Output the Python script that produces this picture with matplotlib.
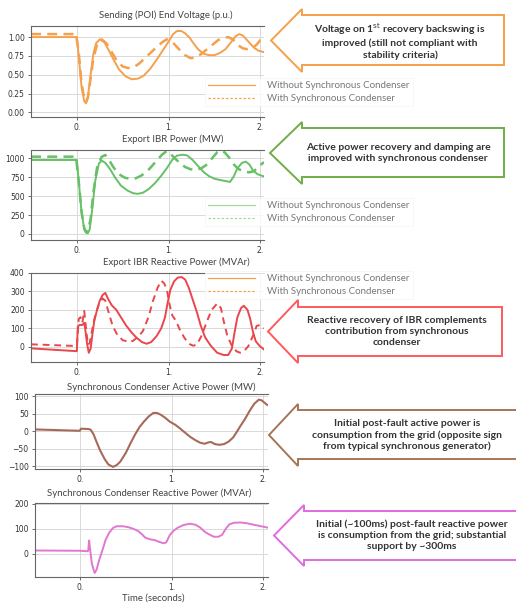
import matplotlib
matplotlib.use("Agg")
import matplotlib.pyplot as plt
from matplotlib.patches import Polygon
from matplotlib.lines import Line2D

# Tensión en el extremo emisor (p.u.)
t_v_sin = [-0.5, 0.0, 0.02, 0.05, 0.08, 0.1, 0.12, 0.15, 0.18, 0.21, 0.25, 0.3, 0.35, 0.4, 0.46, 0.53, 0.6,
           0.67, 0.73, 0.8, 0.87, 0.94, 1.0, 1.05, 1.09, 1.14, 1.18, 1.23, 1.27, 1.32, 1.38, 1.44, 1.5, 1.56,
           1.62, 1.68, 1.73, 1.77, 1.81, 1.87, 1.93, 1.98, 2.04]
v_sin = [1.0, 1.0, 0.75, 0.35, 0.15, 0.12, 0.2, 0.5, 0.78, 0.92, 0.97, 0.93, 0.82, 0.70, 0.57, 0.48, 0.44,
         0.45, 0.49, 0.58, 0.70, 0.83, 0.94, 1.04, 1.08, 1.08, 1.05, 0.99, 0.92, 0.84, 0.78, 0.76, 0.76, 0.79,
         0.84, 0.93, 1.01, 1.04, 1.02, 0.94, 0.86, 0.82, 0.80]
t_v_con = [-0.5, -0.01, 0.02, 0.05, 0.08, 0.1, 0.12, 0.15, 0.18, 0.22, 0.27, 0.32, 0.38, 0.44, 0.5, 0.56, 0.62,
           0.68, 0.75, 0.82, 0.88, 0.94, 0.98, 1.02, 1.06, 1.12, 1.18, 1.24, 1.3, 1.36, 1.42, 1.48, 1.54, 1.6,
           1.65, 1.7, 1.76, 1.81, 1.86, 1.91, 1.96, 2.0, 2.04]
v_con = [1.04, 1.04, 0.8, 0.4, 0.18, 0.14, 0.2, 0.45, 0.72, 0.9, 0.97, 0.92, 0.80, 0.68, 0.61, 0.59, 0.60,
         0.65, 0.73, 0.81, 0.88, 0.94, 0.97, 0.95, 0.91, 0.83, 0.76, 0.72, 0.73, 0.78, 0.84, 0.90, 0.96, 0.99,
         1.0, 0.97, 0.89, 0.85, 0.84, 0.85, 0.90, 0.96, 0.98]

# Potencia activa exportada IBR (MW)
t_p_sin = [-0.5, 0.0, 0.02, 0.05, 0.08, 0.1, 0.12, 0.14, 0.17, 0.2, 0.24, 0.27, 0.31, 0.36, 0.42, 0.48, 0.55,
           0.61, 0.66, 0.72, 0.78, 0.85, 0.92, 0.98, 1.04, 1.09, 1.15, 1.2, 1.26, 1.32, 1.38, 1.44, 1.5, 1.56,
           1.62, 1.67, 1.71, 1.75, 1.8, 1.84, 1.88, 1.92, 1.97, 2.04]
p_sin = [978, 978, 700, 300, 60, 15, 10, 60, 350, 700, 930, 970, 940, 860, 740, 640, 575,
         540, 530, 545, 590, 670, 770, 868, 980, 1035, 1048, 1040, 980, 900, 820, 765, 730, 714,
         700, 688, 760, 868, 940, 956, 920, 840, 790, 760]
t_p_con = [-0.5, -0.01, 0.02, 0.05, 0.08, 0.1, 0.12, 0.15, 0.18, 0.22, 0.27, 0.31, 0.35, 0.4, 0.46, 0.52, 0.58,
           0.64, 0.7, 0.76, 0.82, 0.87, 0.93, 0.98, 1.02, 1.06, 1.12, 1.18, 1.24, 1.3, 1.36, 1.42, 1.48, 1.53,
           1.57, 1.61, 1.66, 1.71, 1.76, 1.82, 1.88, 1.93, 1.98, 2.04]
p_con = [1022, 1022, 700, 300, 80, 30, 30, 200, 550, 880, 1020, 1044, 980, 880, 790, 745, 727,
         735, 770, 820, 900, 970, 1050, 1097, 1060, 1010, 940, 885, 855, 846, 870, 920, 1010, 1080,
         1105, 1080, 1010, 920, 860, 825, 815, 830, 890, 950]

# Potencia reactiva exportada IBR (MVAr)
t_q_sin = [-0.5, -0.01, 0.0, 0.01, 0.03, 0.06, 0.08, 0.09, 0.11, 0.13, 0.15, 0.17, 0.19, 0.22, 0.25, 0.28,
           0.31, 0.34, 0.38, 0.43, 0.48, 0.54, 0.6, 0.65, 0.71, 0.76, 0.81, 0.87, 0.92, 0.96, 0.99, 1.02, 1.06,
           1.1, 1.14, 1.18, 1.22, 1.26, 1.31, 1.35, 1.4, 1.46, 1.53, 1.6, 1.65, 1.69, 1.72, 1.75, 1.79, 1.82,
           1.86, 1.89, 1.92, 1.95, 1.99, 2.04]
q_sin = [-9, -24, -24, 110, 118, 118, 130, 100, 20, -33, -10, 70, 140, 200, 250, 280,
         292, 260, 225, 200, 160, 113, 75, 49, 25, 16, 25, 58, 100, 158, 240, 310, 355,
         375, 378, 365, 320, 260, 185, 115, 49, 5, -33, -45, -45, -10, 80, 160, 210, 222,
         200, 150, 80, 30, 5, -15]
t_q_con = [-0.5, -0.01, 0.0, 0.02, 0.04, 0.06, 0.08, 0.1, 0.12, 0.14, 0.17, 0.2, 0.24, 0.28, 0.31, 0.35,
           0.39, 0.44, 0.5, 0.56, 0.61, 0.67, 0.72, 0.78, 0.83, 0.88, 0.92, 0.95, 0.98, 1.01, 1.04, 1.08,
           1.12, 1.17, 1.22, 1.27, 1.31, 1.36, 1.42, 1.47, 1.53, 1.57, 1.6, 1.64, 1.69, 1.74, 1.78, 1.83,
           1.87, 1.92, 1.96, 2.0, 2.04]
q_con = [13, 4, 4, 150, 160, 130, 195, 100, 10, 20, 100, 170, 230, 262, 250, 180,
         113, 65, 35, 28, 31, 55, 85, 160, 249, 320, 358, 345, 313, 230, 170, 140,
         95, 50, 16, 5, 13, 60, 140, 200, 235, 210, 140, 60, 4, -25, -33, -20,
         4, 60, 113, 118, 100]

# Condensador síncrono: potencia activa (MW)
t_sc_p = [-0.5, 0.0, 0.01, 0.1, 0.12, 0.15, 0.18, 0.22, 0.27, 0.31, 0.36, 0.4, 0.44, 0.5, 0.55, 0.6, 0.65,
          0.7, 0.75, 0.8, 0.84, 0.88, 0.93, 0.98, 1.04, 1.09, 1.14, 1.2, 1.26, 1.31, 1.36, 1.4, 1.43, 1.47,
          1.52, 1.57, 1.62, 1.67, 1.71, 1.75, 1.8, 1.85, 1.9, 1.95, 1.98, 2.04]
sc_p = [5, 1, 7, 6, 3, -10, -30, -55, -80, -95, -102, -97, -87, -62, -35, -10, 12,
        28, 42, 52, 52, 47, 38, 27, 18, 8, -3, -16, -26, -33, -36, -32, -31, -37,
        -39, -37, -30, -18, -2, 15, 35, 58, 78, 90, 88, 75]

# Condensador síncrono: potencia reactiva (MVAr)
t_sc_q = [-0.5, 0.0, 0.08, 0.09, 0.1, 0.11, 0.13, 0.16, 0.18, 0.21, 0.25, 0.28, 0.32, 0.36, 0.4, 0.47, 0.53,
          0.58, 0.63, 0.67, 0.71, 0.76, 0.81, 0.86, 0.91, 0.94, 0.98, 1.02, 1.07, 1.13, 1.2, 1.26, 1.31, 1.36,
          1.41, 1.46, 1.51, 1.55, 1.59, 1.63, 1.68, 1.75, 1.82, 1.88, 1.95, 2.04]
sc_q = [13, 12, 10, 12, 53, 20, -40, -77, -65, -25, 20, 56, 85, 103, 110, 110, 106,
        100, 92, 80, 65, 58, 55, 48, 42, 45, 75, 92, 105, 115, 120, 116, 105, 88,
        77, 68, 68, 76, 100, 118, 124, 125, 122, 117, 112, 105]

etiquetas = ['Without Synchronous Condenser', 'With Synchronous Condenser']
titulos = ['Sending (POI) End Voltage (p.u.)', 'Export IBR Power (MW)', 'Export IBR Reactive Power (MVAr)',
           'Synchronous Condenser Active Power (MW)', 'Synchronous Condenser Reactive Power (MVAr)']
x_ticks = [0, 1, 2]
x_ticklabels = ['0.', '1.', '2.']

naranja = '#f5a04c'
verde = '#66c166'
rojo = '#e8474c'
marron = '#a86a58'
rosa = '#e277cf'

W, H = 516, 613
fig = plt.figure(figsize=(W / 100, H / 100), dpi=100)
fig.patch.set_facecolor('white')


def ejes(l, t, r, b):
    return fig.add_axes([l / W, 1 - b / H, (r - l) / W, (b - t) / H])


def estilo(ax, ylim, yticks, ylabels, xl):
    ax.set_xlim(xl)
    ax.set_ylim(ylim)
    ax.set_xticks(x_ticks)
    ax.set_xticklabels(x_ticklabels)
    ax.set_yticks(yticks)
    ax.set_yticklabels(ylabels)
    ax.grid(True, color='#d9d9d9', lw=0.7)
    ax.set_axisbelow(True)
    ax.spines['right'].set_visible(False)
    for s in ['left', 'top', 'bottom']:
        ax.spines[s].set_color('#666666')
        ax.spines[s].set_linewidth(0.8)
    ax.tick_params(labelsize=5.5, colors='#555555', labelcolor='#333333', length=2.5, width=0.6, pad=2)


def leyenda(ax, handles, ycen):
    leg = ax.legend(handles, etiquetas, loc='center left', bbox_to_anchor=(205 / W, 1 - ycen / H),
                    bbox_transform=fig.transFigure, handlelength=4.8, handletextpad=1.3,
                    labelspacing=0.42, borderpad=0.3, borderaxespad=0, frameon=True, fancybox=False,
                    prop={'family': 'Lato', 'size': 7})
    leg.get_frame().set_edgecolor('#f4f4f4')
    leg.get_frame().set_linewidth(0.6)
    for txt in leg.get_texts():
        txt.set_color('#777777')


# Panel 1: tensión
ax1 = ejes(31, 26, 264, 117)
ax1.plot(t_v_sin, v_sin, color=naranja, lw=1.4)
ax1.plot(t_v_con, v_con, color=naranja, lw=1.8, ls=(0, (4, 2.5)))
estilo(ax1, (-0.06, 1.147), [0, 0.25, 0.5, 0.75, 1.0], ['0.00', '0.25', '0.50', '0.75', '1.00'], (-0.5, 2.04))
leyenda(ax1, [Line2D([], [], color=naranja, lw=0.9), Line2D([], [], color=naranja, lw=0.9, ls=(0, (2, 1.5)))], 92)

# Panel 2: potencia activa IBR
ax2 = ejes(31, 150, 264, 240)
ax2.plot(t_p_sin, p_sin, color=verde, lw=1.4)
ax2.plot(t_p_con, p_con, color=verde, lw=1.8, ls=(0, (4, 2.5)))
estilo(ax2, (-80, 1110), [0, 250, 500, 750, 1000], ['0', '250', '500', '750', '1000'], (-0.5, 2.04))
leyenda(ax2, [Line2D([], [], color=verde, lw=0.9, alpha=0.6),
              Line2D([], [], color=verde, lw=0.9, alpha=0.6, ls=(0, (2, 1.5)))], 212)

# Panel 3: potencia reactiva IBR
ax3 = ejes(31, 273, 264, 362)
ax3.plot(t_q_sin, q_sin, color=rojo, lw=1.4)
ax3.plot(t_q_con, q_con, color=rojo, lw=1.4, ls=(0, (3.5, 2.5)))
estilo(ax3, (-83, 400), [0, 100, 200, 300, 400], ['0', '100', '200', '300', '400'], (-0.5, 2.04))
leyenda(ax3, [Line2D([], [], color=naranja, lw=0.9), Line2D([], [], color=naranja, lw=0.9, ls=(0, (2, 1.5)))], 285)

# Panel 4: condensador síncrono, potencia activa
ax4 = ejes(35, 394, 268, 469)
ax4.plot(t_sc_p, sc_p, color=marron, lw=1.5)
estilo(ax4, (-108, 106), [-100, -50, 0, 50, 100], ['\u2212100', '\u221250', '0', '50', '100'], (-0.49, 2.05))

# Panel 5: condensador síncrono, potencia reactiva
ax5 = ejes(35, 503, 268, 577)
ax5.plot(t_sc_q, sc_q, color=rosa, lw=1.4)
estilo(ax5, (-93, 203), [0, 100, 200], ['0', '100', '200'], (-0.49, 2.05))

# Títulos de cada panel
for (x, y), txt in zip([(166, 15), (173, 139), (176, 262), (161, 387), (149, 493)], titulos):
    fig.text(x / W, 1 - y / H, txt, ha='center', va='center', fontsize=6.9, family='Lato', color='#444444')
fig.text(153 / W, 1 - 598 / H, 'Time (seconds)', ha='center', va='center', fontsize=6.9,
         family='Lato', color='#444444')

# Flechas con comentarios
flechas = [
    (271, 302, 504, 9, 15, 65, 72, naranja,
     'Voltage on 1$^{\\mathrm{st}}$ recovery backswing is\nimproved (still not compliant with\nstability criteria)', 400),
    (270, 302, 504, 122, 128, 177, 184, '#70ad47',
     'Active power recovery and damping are\nimproved with synchronous condenser', 398),
    (268, 298, 502, 300, 307, 356, 363, '#ff5a5a',
     'Reactive recovery of IBR complements\ncontribution from synchronous\ncondenser', 397),
    (269, 298, 530, 404, 410, 459, 466, '#a57656',
     'Initial post-fault active power is\nconsumption from the grid (opposite sign\nfrom typical synchronous generator)', 407),
    (274, 304, 530, 505, 511, 560, 566, '#e06ae0',
     'Initial (~100ms) post-fault reactive power\nis consumption from the grid; substantial\nsupport by ~300ms', 412),
]
for xt, xb, xr, yh1, yb1, yb2, yh2, col, txt, xc in flechas:
    yc = (yh1 + yh2) / 2
    pts = [(xt, yc), (xb, yh1), (xb, yb1), (xr, yb1), (xr, yb2), (xb, yb2), (xb, yh2)]
    pts = [(x / W, 1 - y / H) for x, y in pts]
    fig.add_artist(Polygon(pts, closed=True, facecolor='white', edgecolor=col, lw=1.4,
                           transform=fig.transFigure, zorder=5))
    fig.text(xc / W, 1 - yc / H, txt, ha='center', va='center', fontsize=7.5, family='Lato',
             weight='bold', color='#333333', linespacing=1.3, zorder=6)

plt.savefig('out.png', dpi=100)
